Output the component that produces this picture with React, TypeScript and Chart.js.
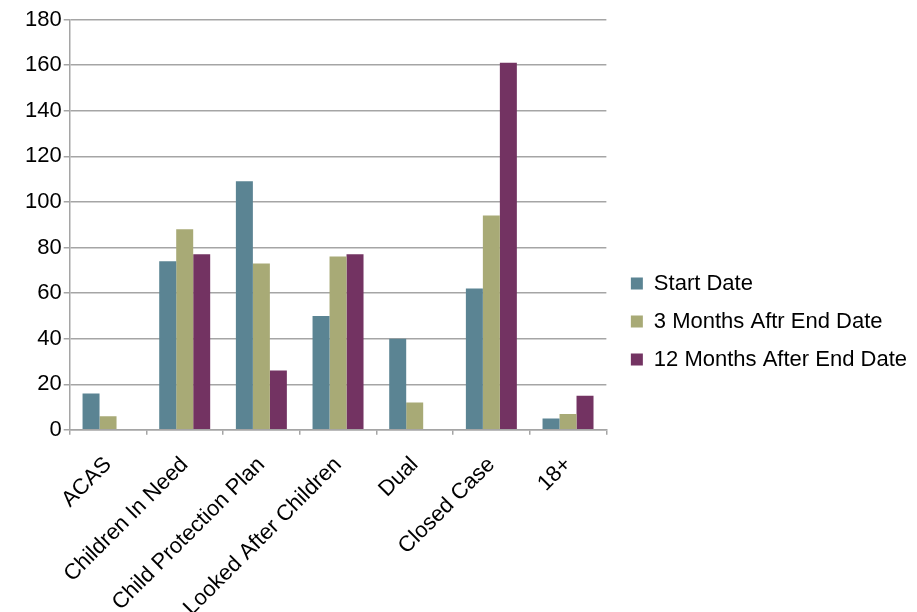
import React, { useEffect, useRef } from "react";
import { Chart, registerables } from "chart.js";

Chart.register(...registerables);

const categories = [
  "ACAS",
  "Children In Need",
  "Child Protection Plan",
  "Looked After Children",
  "Dual",
  "Closed Case",
  "18+",
];
const seriesNames = ["Start Date", "3 Months Aftr End Date", "12 Months After End Date"];
const startDate = [16, 74, 109, 50, 40, 62, 5];
const threeMonths = [6, 88, 73, 76, 12, 94, 7];
const twelveMonths = [0, 77, 26, 77, 0, 161, 15];
const yTicks = [0, 20, 40, 60, 80, 100, 120, 140, 160, 180];

const colors = ["#5b8493", "#a8aa76", "#733362"];
const FONT = "'Liberation Sans', Arial, sans-serif";

export default function App() {
  const ref = useRef<HTMLCanvasElement | null>(null);
  useEffect(() => {
    if (!ref.current) return;
    const values = [startDate, threeMonths, twelveMonths];
    const chart = new Chart(ref.current, {
      type: "bar",
      data: {
        labels: categories,
        datasets: seriesNames.map((name, i) => ({
          label: name,
          data: values[i],
          backgroundColor: colors[i],
          borderWidth: 0,
          barPercentage: 1,
          categoryPercentage: 0.665,
          yAxisID: "y",
        })),
      },
      options: {
        responsive: false,
        animation: false,
        layout: { padding: { top: 19.5, left: 23, right: 0, bottom: 0 } },
        plugins: {
          tooltip: { enabled: false },
          legend: {
            position: "right",
            fullSize: false,
            maxWidth: 400,
            title: { display: true, text: "", font: { size: 3 }, padding: { top: 190, bottom: 0 } },
            labels: {
              color: "#000",
              font: { family: FONT, size: 22 },
              boxWidth: 12,
              boxHeight: 12,
              padding: 16,
            },
          },
        },
        scales: {
          x: {
            grid: {
              offset: true,
              drawOnChartArea: false,
              drawTicks: true,
              tickLength: 5,
              color: "#a5a5a5",
              lineWidth: 1.5,
            },
            border: { color: "#a5a5a5", width: 1.5 },
            ticks: {
              color: "#000",
              font: { family: FONT, size: 22 },
              maxRotation: 45,
              minRotation: 45,
              padding: 17,
              autoSkip: false,
            },
          },
          y: {
            min: 0,
            max: 180,
            afterBuildTicks: (axis: any) => {
              axis.ticks = yTicks.map((v) => ({ value: v }));
            },
            grid: {
              color: "#a5a5a5",
              lineWidth: 1.5,
              tickLength: 6,
            },
            border: { color: "#a5a5a5", width: 1.5 },
            ticks: {
              color: "#000",
              font: { family: FONT, size: 22 },
              padding: 2,
            },
          },
          spacer: {
            type: "linear",
            position: "right",
            grid: { display: false },
            border: { display: false },
            ticks: { display: false },
            afterFit: (axis: any) => {
              axis.width = 8.5;
            },
          },
        },
      },
    });
    return () => chart.destroy();
  }, []);
  return (
    <div style={{ position: "fixed", left: 0, top: 0, width: 917, height: 612, overflow: "hidden", background: "#fff" }}>
      <canvas ref={ref} width={917} height={638} style={{ display: "block" }} />
    </div>
  );
}
